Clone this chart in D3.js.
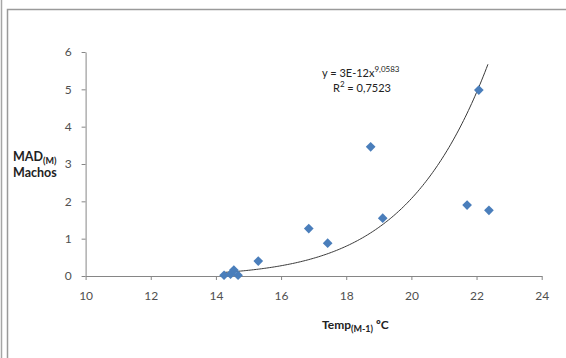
<!DOCTYPE html>
<html>
<head>
<meta charset="utf-8">
<script src="https://cdn.jsdelivr.net/npm/d3@7"></script>
<style>
  body { margin: 0; background: #fff; }
  svg { display: block; font-family: Lato, "Open Sans", sans-serif; }
</style>
</head>
<body>
<div id="chart"></div>
<script>
// data
const tempValues = [14.25, 14.45, 14.55, 14.68, 15.3, 16.85, 17.43, 18.75, 19.12, 21.71, 22.07, 22.38];
const madValues  = [0.02, 0.05, 0.16, 0.02, 0.40, 1.27, 0.88, 3.46, 1.55, 1.90, 4.98, 1.76];
const xTicks = [10, 12, 14, 16, 18, 20, 22, 24];
const yTicks = [0, 1, 2, 3, 4, 5, 6];
// power trendline y = a * x^b (a shown rounded as 3E-12)
const trendA = 3.4e-12;
const trendB = 9.0583;

const width = 566, height = 358;
const margin = { top: 52, right: 24, bottom: 82, left: 85.6 };

const svg = d3.select("#chart").append("svg")
  .attr("width", width)
  .attr("height", height);

// outer frame lines
svg.append("line").attr("x1", 1.5).attr("x2", 1.5).attr("y1", 0).attr("y2", height)
  .attr("stroke", "#a6a6a6").attr("stroke-width", 1.5);
svg.append("path")
  .attr("d", `M7.5,${height} V9.5 H${width}`)
  .attr("fill", "none").attr("stroke", "#9a9a9a").attr("stroke-width", 1.5);

const x = d3.scaleLinear().domain([10, 24]).range([margin.left, 541.7]);
const y = d3.scaleLinear().domain([0, 6]).range([276, 52]);

const axisColor = "#868686";

const xAxis = svg.append("g")
  .attr("transform", `translate(0,${y(0)})`)
  .call(d3.axisBottom(x).tickValues(xTicks).tickFormat(d3.format("d"))
    .tickSize(4).tickSizeOuter(0).tickPadding(11));
const yAxis = svg.append("g")
  .attr("transform", `translate(${x(10)},0)`)
  .call(d3.axisLeft(y).tickValues(yTicks).tickFormat(d3.format("d"))
    .tickSize(4).tickSizeOuter(0).tickPadding(10));

[xAxis, yAxis].forEach(g => {
  g.select(".domain").attr("stroke", axisColor);
  g.selectAll(".tick line").attr("stroke", axisColor);
  g.selectAll(".tick text")
    .attr("fill", "#505050")
    .style("font-size", "12px")
    .style("font-family", "Lato, 'Open Sans', sans-serif");
});

// trendline
const trendX = d3.range(d3.min(tempValues), d3.max(tempValues) + 0.001, 0.05);
const line = d3.line()
  .x(d => x(d))
  .y(d => y(trendA * Math.pow(d, trendB)));
svg.append("path")
  .datum(trendX)
  .attr("d", line)
  .attr("fill", "none")
  .attr("stroke", "#3a3a3a")
  .attr("stroke-width", 1);

// diamond markers
const points = tempValues.map((t, i) => ({ t, m: madValues[i] }));
svg.selectAll(".pt")
  .data(points)
  .join("path")
  .attr("class", "pt")
  .attr("d", d3.symbol().type(d3.symbolDiamond2).size(60))
  .attr("transform", d => `translate(${x(d.t)},${y(d.m)})`)
  .attr("fill", "#4a7ebb");

// equation label
const eq = svg.append("text")
  .attr("x", 322).attr("y", 77)
  .attr("fill", "#222")
  .style("font-size", "11px");
eq.append("tspan").text("y = 3E-12x");
eq.append("tspan").attr("dy", -5).style("font-size", "8px").text("9,0583");

const r2 = svg.append("text")
  .attr("x", 333).attr("y", 92)
  .attr("fill", "#222")
  .style("font-size", "11px");
r2.append("tspan").text("R");
r2.append("tspan").attr("dy", -5).style("font-size", "8px").text("2");
r2.append("tspan").attr("dy", 5).text(" = 0,7523");

// x axis title
const xt = svg.append("text")
  .attr("x", 322).attr("y", 329)
  .attr("fill", "#222")
  .style("font-size", "12px")
  .style("font-weight", "bold");
xt.append("tspan").text("Temp");
xt.append("tspan").attr("dy", 3).style("font-size", "9px").text("(M-1)");
xt.append("tspan").attr("dy", -3).text(" ºC");

// y axis title
const yt = svg.append("text")
  .attr("x", 13).attr("y", 161)
  .attr("fill", "#222")
  .style("font-size", "12.5px")
  .style("font-weight", "bold");
yt.append("tspan").text("MAD");
yt.append("tspan").attr("dy", 3).style("font-size", "9px").text("(M)");
svg.append("text")
  .attr("x", 13).attr("y", 177)
  .attr("fill", "#222")
  .style("font-size", "12.5px")
  .style("font-weight", "bold")
  .text("Machos");
</script>
</body>
</html>
